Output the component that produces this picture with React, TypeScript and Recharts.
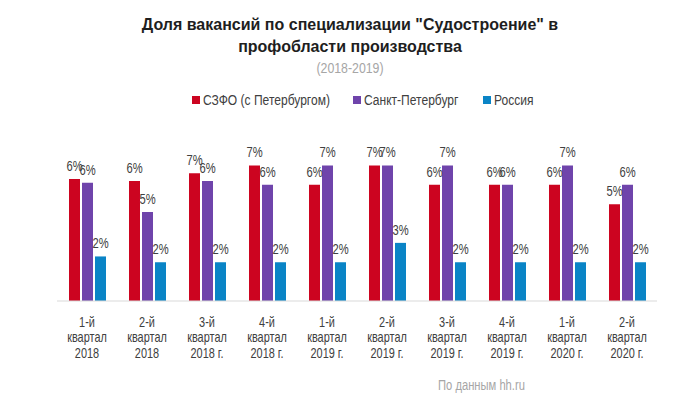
import { Bar, BarChart, LabelList, XAxis, YAxis } from 'recharts';

const QUARTERS = [
  '1-й\nквартал\n2018',
  '2-й\nквартал\n2018',
  '3-й\nквартал\n2018 г.',
  '4-й\nквартал\n2018 г.',
  '1-й\nквартал\n2019 г.',
  '2-й\nквартал\n2019 г.',
  '3-й\nквартал\n2019 г.',
  '4-й\nквартал\n2019 г.',
  '1-й\nквартал\n2020 г.',
  '2-й\nквартал\n2020 г.',
];

const SZFO = [6.3, 6.2, 6.6, 7.0, 6.0, 7.0, 6.0, 6.0, 6.0, 5.0];
const SPB = [6.1, 4.6, 6.2, 6.0, 7.0, 7.0, 7.0, 6.0, 7.0, 6.0];
const RUSSIA = [2.3, 2.0, 2.0, 2.0, 2.0, 3.0, 2.0, 2.0, 2.0, 2.0];

const SERIES = [
  { key: 'szfo', name: 'СЗФО (с Петербургом)', color: '#cc0420' },
  { key: 'spb', name: 'Санкт-Петербург', color: '#6f44ab' },
  { key: 'russia', name: 'Россия', color: '#0a84c6' },
];

const data = QUARTERS.map((name, i) => ({
  name,
  szfo: SZFO[i],
  spb: SPB[i],
  russia: RUSSIA[i],
}));

const FONT = '"Liberation Sans", Arial, sans-serif';
const TEXT = '#404040';
const GREY = '#a6a6a6';

// no narrow font installed, so squeeze regular Liberation Sans horizontally
function QuarterTick({ x, y, payload }: any) {
  const lines = String(payload.value).split('\n');
  return (
    <g transform={`translate(${x},${y}) scale(0.78,1)`}>
      <text x={0} y={0} textAnchor="middle" fill={TEXT} fontSize={14} fontFamily={FONT}>
        {lines.map((line, i) => (
          <tspan key={i} x={0} dy={i === 0 ? 18 : 15.5}>
            {line}
          </tspan>
        ))}
      </text>
    </g>
  );
}

function ValueLabel({ x, y, width, value }: any) {
  const cx = Number(x) + Number(width) / 2;
  return (
    <g transform={`translate(${cx},${Number(y) - 8}) scale(0.8,1)`}>
      <text x={0} y={0} textAnchor="middle" fill={TEXT} fontSize={14} fontFamily={FONT}>
        {`${Math.round(Number(value))}%`}
      </text>
    </g>
  );
}

const LEGEND_X = [192, 353, 483];

export default function App() {
  return (
    <div style={{ position: 'absolute', left: 0, top: 0, width: 700, height: 402, background: '#fff' }}>
      <div
        style={{
          position: 'absolute',
          top: 14,
          width: 700,
          textAlign: 'center',
          fontFamily: FONT,
          fontWeight: 'bold',
          fontSize: 16,
          lineHeight: '22px',
          color: '#1e1e1e',
        }}
      >
        Доля вакансий по специализации "Судостроение" в
        <br />
        профобласти производства
      </div>
      <div
        style={{
          position: 'absolute',
          top: 60,
          width: 700,
          textAlign: 'center',
          fontFamily: FONT,
          fontSize: 14,
          color: GREY,
          transform: 'scaleX(0.88)',
        }}
      >
        (2018-2019)
      </div>
      {SERIES.map((s, i) => (
        <div
          key={s.key}
          style={{ position: 'absolute', top: 92, left: LEGEND_X[i], height: 16, display: 'flex', alignItems: 'center' }}
        >
          <span style={{ width: 8, height: 8, background: s.color, display: 'inline-block', marginRight: 3 }} />
          <span
            style={{
              fontFamily: FONT,
              fontSize: 14,
              color: TEXT,
              whiteSpace: 'nowrap',
              display: 'inline-block',
              transform: 'scaleX(0.86)',
              transformOrigin: 'left center',
            }}
          >
            {s.name}
          </span>
        </div>
      ))}
      <div
        style={{
          position: 'absolute',
          top: 377,
          left: 438,
          fontFamily: FONT,
          fontSize: 14,
          color: GREY,
          whiteSpace: 'nowrap',
          transform: 'scaleX(0.8)',
          transformOrigin: 'left center',
        }}
      >
        По данным hh.ru
      </div>
      <BarChart
        width={700}
        height={402}
        data={data}
        margin={{ top: 146, right: 43, bottom: 41, left: 57 }}
        barSize={11}
        barGap={2}
        style={{ position: 'absolute', left: 0, top: 0 }}
      >
        <XAxis
          dataKey="name"
          interval={0}
          height={60}
          tickLine={false}
          axisLine={{ stroke: '#d9d9d9' }}
          tick={<QuarterTick />}
        />
        <YAxis hide domain={[0, 8]} />
        {SERIES.map((s) => (
          <Bar key={s.key} dataKey={s.key} name={s.name} fill={s.color} isAnimationActive={false}>
            <LabelList dataKey={s.key} content={<ValueLabel />} />
          </Bar>
        ))}
      </BarChart>
    </div>
  );
}
